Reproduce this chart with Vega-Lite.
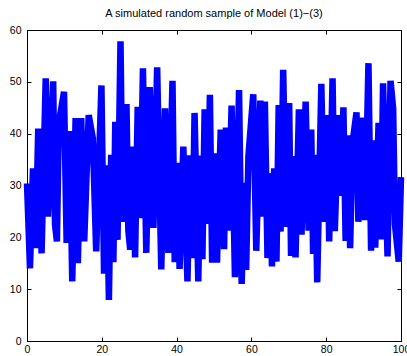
{
  "$schema": "https://vega.github.io/schema/vega-lite/v6.json",
  "width": 374,
  "height": 311,
  "autosize": {"type": "none"},
  "padding": {"left": 27, "top": 30, "right": 6, "bottom": 15},
  "background": "white",
  "title": {"text": "A simulated random sample of Model (1)\u2212(3)", "font": "Liberation Sans", "fontSize": 11, "fontWeight": "normal", "color": "#000000", "anchor": "middle", "offset": 6},
  "config": {
    "view": {"stroke": "#000000", "strokeWidth": 1},
    "axis": {"grid": false, "domainColor": "#000000", "tickColor": "#000000", "labelColor": "#000000", "labelFont": "Liberation Sans", "labelFontSize": 10.5, "tickSize": -4, "title": null, "labelFlush": false}
  },
  "data": {"values": [
    {"x":0.0,"y":30.4},{"x":0.8,"y":14.0},{"x":1.6,"y":33.3},{"x":2.3,"y":17.9},{"x":3.0,"y":41.0},{"x":3.9,"y":16.9},{"x":5.0,"y":50.7},{"x":5.6,"y":24.0},{"x":7.0,"y":50.1},{"x":7.5,"y":22.4},{"x":8.0,"y":19.2},{"x":8.5,"y":42.0},{"x":9.9,"y":48.1},{"x":10.6,"y":18.9},{"x":11.4,"y":40.5},{"x":12.1,"y":11.5},{"x":13.0,"y":43.0},{"x":13.6,"y":15.0},{"x":14.5,"y":43.0},{"x":15.3,"y":19.2},{"x":16.5,"y":43.6},{"x":17.6,"y":39.1},{"x":18.5,"y":17.3},{"x":19.9,"y":49.3},{"x":20.6,"y":13.0},{"x":21.3,"y":33.9},{"x":21.9,"y":7.9},{"x":22.5,"y":35.9},{"x":23.1,"y":15.2},{"x":23.6,"y":42.3},{"x":24.2,"y":19.5},{"x":25.0,"y":57.8},{"x":25.6,"y":23.0},{"x":26.6,"y":45.7},{"x":27.1,"y":21.3},{"x":27.6,"y":17.6},{"x":28.4,"y":37.5},{"x":28.9,"y":16.1},{"x":29.6,"y":45.2},{"x":30.3,"y":23.7},{"x":31.0,"y":52.6},{"x":31.9,"y":17.0},{"x":32.8,"y":49.0},{"x":33.8,"y":21.8},{"x":34.8,"y":52.8},{"x":35.9,"y":13.8},{"x":36.9,"y":44.9},{"x":37.8,"y":17.0},{"x":38.9,"y":50.2},{"x":39.5,"y":15.2},{"x":40.3,"y":34.4},{"x":40.8,"y":13.9},{"x":41.8,"y":37.5},{"x":42.9,"y":11.5},{"x":43.6,"y":35.8},{"x":44.2,"y":16.0},{"x":44.8,"y":44.0},{"x":45.8,"y":11.5},{"x":46.4,"y":35.8},{"x":46.9,"y":15.8},{"x":47.5,"y":44.7},{"x":48.3,"y":22.6},{"x":48.9,"y":47.5},{"x":49.5,"y":15.1},{"x":50.2,"y":36.2},{"x":50.8,"y":15.1},{"x":51.8,"y":40.8},{"x":52.7,"y":17.7},{"x":53.2,"y":41.2},{"x":53.9,"y":21.3},{"x":54.7,"y":45.4},{"x":55.6,"y":12.3},{"x":56.7,"y":48.4},{"x":57.4,"y":11.0},{"x":58.1,"y":30.5},{"x":58.6,"y":13.7},{"x":59.2,"y":35.6},{"x":60.5,"y":47.6},{"x":61.3,"y":17.4},{"x":62.4,"y":46.4},{"x":63.0,"y":24.0},{"x":63.6,"y":46.2},{"x":64.3,"y":16.0},{"x":64.9,"y":32.4},{"x":65.5,"y":14.4},{"x":66.1,"y":33.3},{"x":66.7,"y":15.3},{"x":67.3,"y":45.5},{"x":67.8,"y":21.1},{"x":68.5,"y":52.3},{"x":69.3,"y":22.0},{"x":70.1,"y":45.9},{"x":70.6,"y":16.4},{"x":71.3,"y":35.7},{"x":71.8,"y":16.1},{"x":72.7,"y":44.7},{"x":73.4,"y":20.5},{"x":74.5,"y":46.2},{"x":75.3,"y":21.3},{"x":76.0,"y":40.8},{"x":76.5,"y":16.8},{"x":77.0,"y":35.9},{"x":77.6,"y":11.3},{"x":78.7,"y":49.6},{"x":79.4,"y":23.0},{"x":80.3,"y":43.6},{"x":80.8,"y":19.2},{"x":81.7,"y":50.7},{"x":82.3,"y":21.2},{"x":83.3,"y":43.6},{"x":83.9,"y":28.0},{"x":84.6,"y":45.1},{"x":85.2,"y":19.3},{"x":85.9,"y":39.7},{"x":86.4,"y":17.9},{"x":87.0,"y":38.0},{"x":88.1,"y":44.1},{"x":88.6,"y":23.0},{"x":89.6,"y":43.1},{"x":90.4,"y":23.3},{"x":91.3,"y":53.6},{"x":92.0,"y":17.4},{"x":92.5,"y":38.7},{"x":93.1,"y":18.0},{"x":94.0,"y":42.1},{"x":94.6,"y":19.6},{"x":95.2,"y":49.7},{"x":96.4,"y":16.3},{"x":97.2,"y":50.2},{"x":97.9,"y":44.9},{"x":98.4,"y":22.4},{"x":99.4,"y":15.3},{"x":100.0,"y":31.6}
  ]},
  "layer": [
    {
      "mark": {"type": "line", "color": "#0000ff", "strokeWidth": 6.5, "strokeJoin": "bevel", "strokeCap": "butt", "clip": false},
      "encoding": {
        "x": {"field": "x", "type": "quantitative", "scale": {"domain": [0, 100], "nice": false}, "axis": {"orient": "bottom", "values": [0, 20, 40, 60, 80, 100], "labelPadding": 7}},
        "y": {"field": "y", "type": "quantitative", "scale": {"domain": [0, 60], "nice": false}, "axis": {"orient": "left", "values": [0, 10, 20, 30, 40, 50, 60], "labelPadding": 10}}
      }
    },
    {
      "mark": {"type": "line", "opacity": 0},
      "encoding": {
        "x": {"field": "x", "type": "quantitative", "scale": {"domain": [0, 100], "nice": false}, "axis": {"orient": "top", "values": [0, 20, 40, 60, 80, 100], "labels": false}},
        "y": {"field": "y", "type": "quantitative", "scale": {"domain": [0, 60], "nice": false}, "axis": {"orient": "right", "values": [0, 10, 20, 30, 40, 50, 60], "labels": false}}
      }
    }
  ],
  "resolve": {"axis": {"x": "independent", "y": "independent"}}
}
